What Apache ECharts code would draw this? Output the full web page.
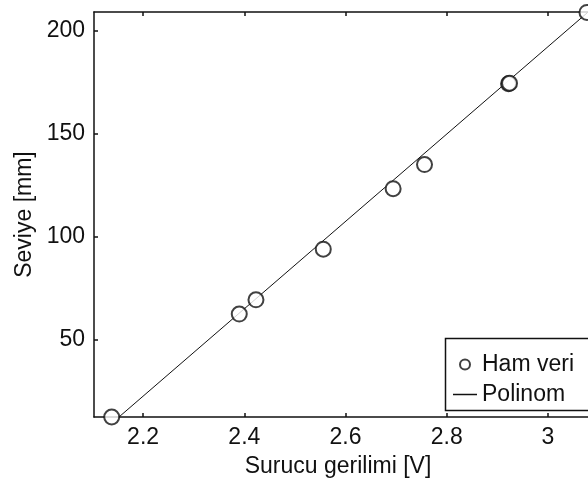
<!DOCTYPE html>
<html>
<head>
<meta charset="utf-8">
<style>html,body{margin:0;padding:0;background:#fff;}#c{width:588px;height:484px;}</style>
<script src="https://cdn.jsdelivr.net/npm/echarts@6/dist/echarts.min.js"></script>
</head>
<body>
<div id="c"></div>
<script>
// Raw measurements (Ham veri)
var voltage = [2.138, 2.390, 2.423, 2.556, 2.694, 2.756, 2.922, 2.924, 3.077];
var level   = [12.5, 62.5, 69.4, 94.0, 123.4, 135.1, 174.4, 174.6, 209.0];
// Fitted polynomial (Polinom) end points
var fitVoltage = [2.10, 3.10];
var fitLevel   = [1.4, 213.6];
// Tick labels
var xTicks = [2.2, 2.4, 2.6, 2.8, 3.0];
var xTickLabels = ['2.2', '2.4', '2.6', '2.8', '3'];
var yTicks = [50, 100, 150, 200];
var yTickLabels = ['50', '100', '150', '200'];

var FONT = '"Liberation Sans", Arial, sans-serif';
var INK = '#111';

var chart = echarts.init(document.getElementById('c'), null, {renderer: 'canvas'});
function xLabel(v) {
  for (var i = 0; i < xTicks.length; i++) if (Math.abs(xTicks[i] - v) < 1e-6) return xTickLabels[i];
  return '';
}
function yLabel(v) {
  for (var i = 0; i < yTicks.length; i++) if (Math.abs(yTicks[i] - v) < 1e-6) return yTickLabels[i];
  return '';
}
var axisLine = {show: true, lineStyle: {color: INK, width: 1.5}};
chart.setOption({
  animation: false,
  backgroundColor: '#fff',
  textStyle: {fontFamily: FONT},
  grid: {left: 94, top: 12, right: 0, height: 405, containLabel: false},
  xAxis: [{
    type: 'value', position: 'bottom', min: 2.103, max: 3.079,
    axisLine: axisLine,
    axisTick: {show: true, inside: true, length: 4, customValues: xTicks, lineStyle: {color: INK, width: 1.5}},
    axisLabel: {show: true, customValues: xTicks, formatter: xLabel, color: INK, fontSize: 23, fontFamily: FONT, margin: 9},
    splitLine: {show: false},
    name: 'Surucu gerilimi [V]', nameLocation: 'middle', nameGap: 38,
    nameTextStyle: {color: INK, fontSize: 23, fontFamily: FONT, padding: [0, 6, 0, 0]}
  }, {
    type: 'value', position: 'top', min: 2.103, max: 3.079,
    axisLine: axisLine,
    axisTick: {show: true, inside: true, length: 4, customValues: xTicks, lineStyle: {color: INK, width: 1.5}},
    axisLabel: {show: false},
    splitLine: {show: false}
  }],
  yAxis: [{
    type: 'value', min: 12.5, max: 209.2,
    axisLine: axisLine,
    axisTick: {show: true, inside: true, length: 4, customValues: yTicks, lineStyle: {color: INK, width: 1.5}},
    axisLabel: {show: true, customValues: yTicks, formatter: yLabel, color: INK, fontSize: 23, fontFamily: FONT, margin: 9},
    splitLine: {show: false},
    name: 'Seviye [mm]', nameLocation: 'middle', nameGap: 57,
    nameTextStyle: {color: INK, fontSize: 23, fontFamily: FONT}
  }],
  graphic: [{
    type: 'rect', z: 1, silent: true,
    shape: {x: 445.5, y: 338.5, width: 170, height: 72},
    style: {fill: '#fff', stroke: INK, lineWidth: 1.5}
  }],
  legend: {
    show: true, orient: 'vertical', left: 445, top: 340, z: 10,
    padding: [13, 10, 4, 8], itemGap: 7, itemWidth: 24, itemHeight: 10,
    borderWidth: 0, backgroundColor: 'transparent',
    textStyle: {color: INK, fontSize: 23, fontFamily: FONT},
    data: [
      {name: 'Ham veri', icon: 'emptyCircle'},
      {name: 'Polinom', icon: 'path://M0,0L24,0L24,1.5L0,1.5Z', itemStyle: {color: INK, borderWidth: 0}}
    ]
  },
  series: [{
    name: 'Polinom', type: 'line', xAxisIndex: 0, yAxisIndex: 0,
    data: fitVoltage.map(function (v, i) { return [v, fitLevel[i]]; }),
    symbol: 'none', showSymbol: false, clip: true,
    lineStyle: {color: INK, width: 1},
    itemStyle: {color: INK}
  }, {
    name: 'Ham veri', type: 'scatter', xAxisIndex: 0, yAxisIndex: 0,
    data: voltage.map(function (v, i) { return [v, level[i]]; }),
    symbol: 'emptyCircle', symbolSize: 15, clip: false, z: 5,
    itemStyle: {color: INK, borderColor: INK, borderWidth: 1.3}
  }]
});
</script>
</body>
</html>
